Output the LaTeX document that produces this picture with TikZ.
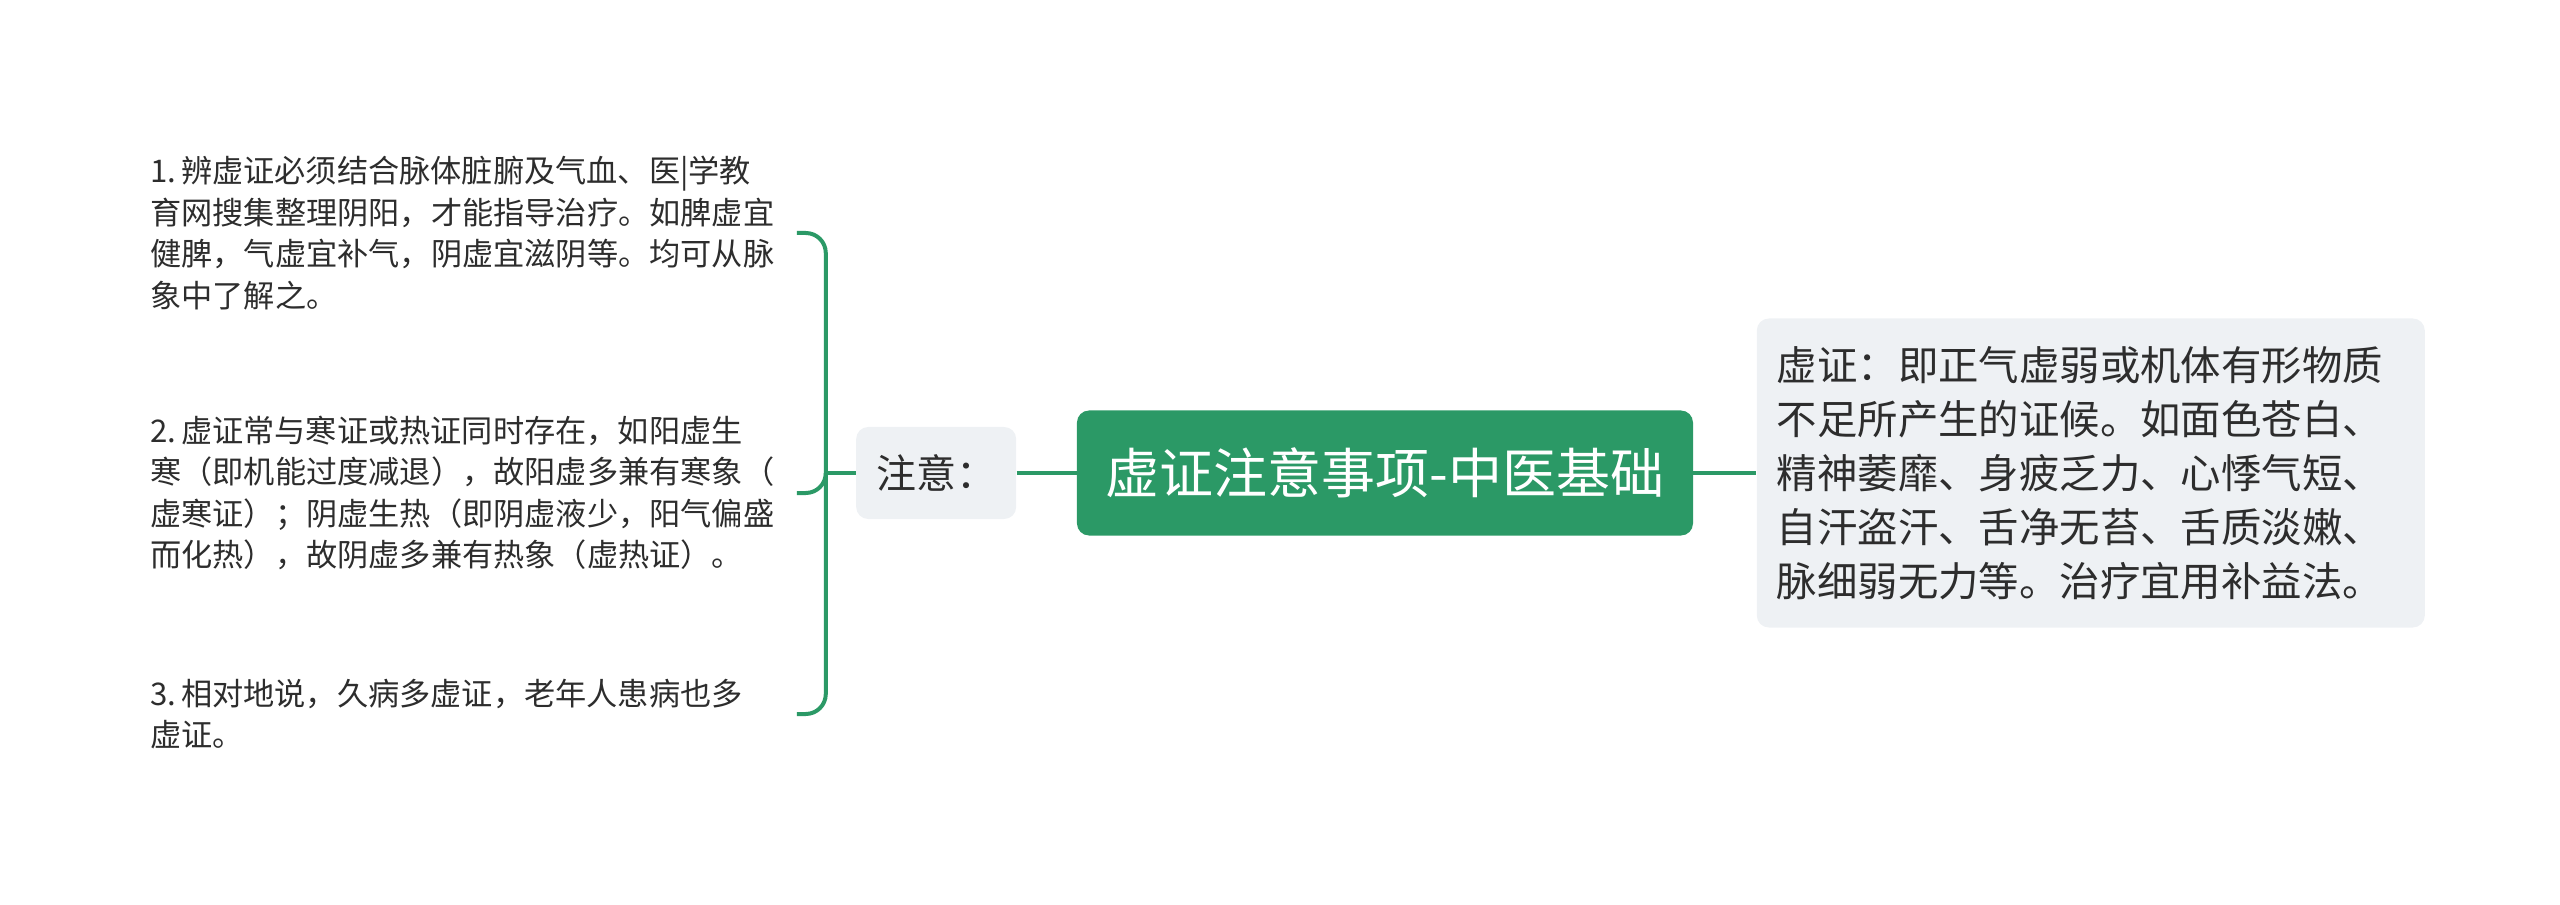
\documentclass[tikz,border=0pt]{standalone}
\usepackage{fontspec}
\setmainfont{Noto Sans CJK SC}
\usepackage{tikz}
\usetikzlibrary{positioning}
\definecolor{mapgreen}{RGB}{43,153,102}
\definecolor{boxgrey}{RGB}{238,241,244}
\definecolor{inkgrey}{RGB}{45,45,45}
\tikzstyle{every node}=[inner sep=0pt]
\tikzstyle{rootbox}=[rectangle,rounded corners=6pt,fill=mapgreen,text=white,minimum width=308pt,minimum height=62.5pt,font=\fontsize{27pt}{32pt}\selectfont]
\tikzstyle{notebox}=[rectangle,rounded corners=6pt,fill=boxgrey,text=inkgrey,minimum width=80pt,minimum height=46pt,font=\fontsize{20pt}{27pt}\selectfont]
\tikzstyle{infobox}=[rectangle,rounded corners=6pt,fill=boxgrey,text=inkgrey,minimum height=154.5pt,inner xsep=10pt,text width=314pt,align=left,font=\fontsize{20.2pt}{27pt}\selectfont]
\tikzstyle{item}=[text=inkgrey,text width=318pt,inner xsep=5pt,align=left,font=\fontsize{15.6pt}{20.8pt}\selectfont]
\tikzstyle{link}=[draw=mapgreen,line width=2pt]
\tikzstyle{hook}=[link,rounded corners=10pt,to path={|- (\tikztotarget)}]
\newcommand{\numgap}{\hspace{0.15em}}

\begin{document}
\begin{tikzpicture}[x=0.5pt,y=0.5pt,node distance=30pt]
\useasboundingbox (-1385,-432) rectangle (1175,473);
\node[rootbox] (root) at (0,0) {虚证注意事项-中医基础};
\node[notebox] (note) [left=of root] {注意：};
\node[infobox] (info) [right=31.5pt of root] {虚证：即正气虚弱或机体有形物质\\不足所产生的证候。如面色苍白、\\精神萎靡、身疲乏力、心悸气短、\\自汗盗汗、舌净无苔、舌质淡嫩、\\脉细弱无力等。治疗宜用补益法。};
\coordinate[left=15pt of note] (jn);
\node[item] (n1) [left=14.5pt of jn,yshift=120pt] {1.\numgap 辨虚证必须结合脉体脏腑及气血、医|学教\\育网搜集整理阴阳，才能指导治疗。如脾虚宜\\健脾，气虚宜补气，阴虚宜滋阴等。均可从脉\\象中了解之。};
\node[item] (n2) [left=14.5pt of jn,yshift=-10pt] {2.\numgap 虚证常与寒证或热证同时存在，如阳虚生\\寒（即机能过度减退），故阳虚多兼有寒象（\\虚寒证）；阴虚生热（即阴虚液少，阳气偏盛\\而化热），故阴虚多兼有热象（虚热证）。};
\node[item] (n3) [left=14.5pt of jn,yshift=-120.5pt] {3.\numgap 相对地说，久病多虚证，老年人患病也多\\虚证。};
\path[link] (note) edge (root)
            (root) edge (info)
            (note.west) edge (jn);
\path (jn) edge[hook] (n1.east)
           edge[hook] (n2.east)
           edge[hook] (n3.east);
\end{tikzpicture}
\end{document}
